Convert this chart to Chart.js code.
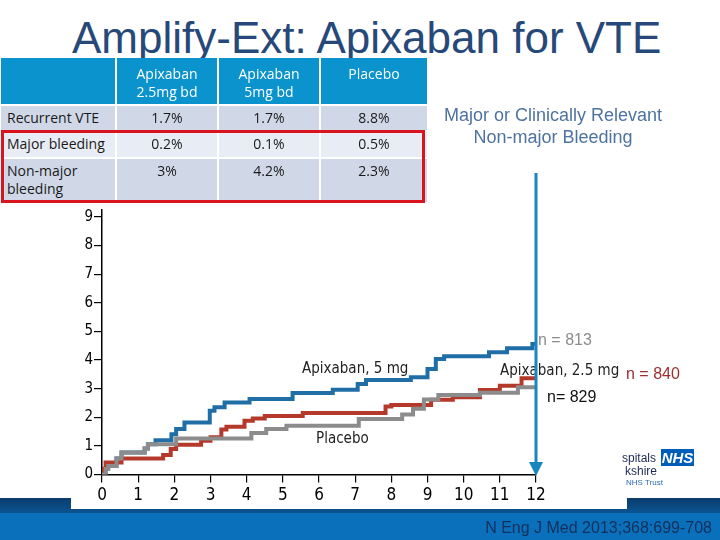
<!DOCTYPE html>
<html>
<head>
<meta charset="utf-8">
<script src="https://cdn.jsdelivr.net/npm/chart.js@4/dist/chart.umd.min.js"></script>
<style>
  body { margin: 0; }
  #stage { position: relative; width: 720px; height: 540px; overflow: hidden; background: #fff; font-family: "Liberation Sans", Arial, sans-serif; }
  .abs { position: absolute; white-space: nowrap; }
  .cell { position: absolute; box-sizing: border-box; font-family: "Open Sans", sans-serif; font-size: 14px; line-height: 18px; white-space: pre-line; color: #1a1a1a; }
  .lbl { font-family: "DejaVu Sans Condensed", sans-serif; font-size: 15px; line-height: 18px; color: #222; }
  .nlbl { font-size: 16px; line-height: 18px; }
</style>
</head>
<body>
<div id="stage">
  <div class="abs" style="left:0;top:498px;width:720px;height:16px;background:linear-gradient(#0b3c6c,#0b5695)"></div>
  <div class="abs" style="left:0;top:513px;width:720px;height:27px;background:#0a70bb"></div>
  <div class="abs" style="left:71px;top:300px;width:556px;height:209px;background:#fff"></div>

  <div class="abs" style="left:72px;top:16px;font-size:44px;line-height:44px;color:#27497a">Amplify-Ext: Apixaban for VTE</div>

  <div class="abs" style="left:0;top:0;width:720px;height:540px">
    <canvas id="chart" width="720" height="540"></canvas>
  </div>

  <div class="abs lbl" style="left:302px;top:359px">Apixaban, 5 mg</div>
  <div class="abs lbl" style="left:500px;top:361px">Apixaban, 2.5 mg</div>
  <div class="abs lbl" style="left:316px;top:429px">Placebo</div>

  <div class="abs nlbl" style="left:538px;top:331px;color:#8c8c8c">n = 813</div>
  <div class="abs nlbl" style="left:626px;top:365px;color:#9b2f2f">n = 840</div>
  <div class="abs nlbl" style="left:547px;top:388px;color:#111">n= 829</div>

  <svg class="abs" style="left:0;top:0" width="720" height="540">
    <line x1="536" y1="173" x2="536" y2="464" stroke="#1a86c0" stroke-width="3"/>
    <polygon points="529,462 543,462 536,476" fill="#1a86c0"/>
  </svg>

  <div class="abs" style="left:443px;top:105px;width:220px;text-align:center;font-size:18px;line-height:21.5px;color:#4f73a0;white-space:normal">Major or Clinically Relevant<br>Non-major Bleeding</div>

  <div id="table"></div>
  <div class="abs" style="left:1px;top:130px;width:424px;height:73px;box-sizing:border-box;border:3px solid #d9141e"></div>

  <div class="abs" style="left:622px;top:452px;font-size:12px;line-height:13px;color:#1d2a55">spitals</div>
  <div class="abs" style="left:625px;top:465px;font-size:12px;line-height:13px;color:#1d2a55">kshire</div>
  <div class="abs" style="left:626px;top:478px;font-size:8px;line-height:9px;color:#2b6cb3">NHS Trust</div>
  <div class="abs" style="left:661px;top:449px;width:33px;height:17px;background:#005eb8;color:#fff;font-weight:bold;font-style:italic;font-size:15px;line-height:17px;text-align:center">NHS</div>

  <div class="abs" style="right:8px;top:519px;font-size:16px;line-height:18px;color:#14305a">N Eng J Med 2013;368:699-708</div>
</div>

<script>
// table
const tableHeads = ['', 'Apixaban\n2.5mg bd', 'Apixaban\n5mg  bd', 'Placebo'];
const tableRows = ['Recurrent VTE', 'Major bleeding', 'Non-major\nbleeding'];
const tableValues = [
  ['1.7%', '1.7%', '8.8%'],
  ['0.2%', '0.1%', '0.5%'],
  ['3%', '4.2%', '2.3%']
];

// Kaplan-Meier style steps: month of event, cumulative %
const apix5Months = [0, 0.1, 0.17, 0.4, 0.54, 1.18, 1.27, 1.48, 1.92, 2.05, 2.28, 2.98, 3.11, 3.39, 4.08, 5.27, 6.38, 7.07, 7.3, 8.54, 9.0, 9.23, 9.46, 10.7, 11.2, 11.9, 12];
const apix5Pct = [0, 0.19, 0.3, 0.56, 0.77, 0.91, 1.06, 1.2, 1.41, 1.59, 1.82, 2.23, 2.35, 2.52, 2.64, 2.85, 2.96, 3.16, 3.3, 3.4, 3.69, 4.04, 4.13, 4.27, 4.41, 4.56, 4.56];

const apix25Months = [0, 0.05, 0.1, 0.54, 1.69, 1.9, 2.05, 2.74, 3.0, 3.3, 3.44, 3.94, 4.17, 4.5, 5.55, 7.84, 8.0, 9.1, 9.7, 10.45, 11.0, 11.6, 12];
const apix25Pct = [0, 0.2, 0.42, 0.56, 0.68, 0.89, 1.04, 1.18, 1.3, 1.57, 1.67, 1.88, 1.96, 2.04, 2.15, 2.38, 2.43, 2.61, 2.7, 2.95, 3.1, 3.36, 3.36];

const placeboMonths = [0, 0.1, 0.17, 0.4, 0.54, 1.18, 1.27, 2.05, 4.13, 4.54, 5.1, 7.1, 8.3, 8.6, 8.9, 9.3, 10.45, 11.5, 12];
const placeboPct = [0, 0.19, 0.3, 0.56, 0.77, 0.91, 1.06, 1.26, 1.45, 1.59, 1.7, 1.94, 2.1, 2.3, 2.62, 2.78, 2.86, 3.05, 3.05];

const xTicks = [0, 1, 2, 3, 4, 5, 6, 7, 8, 9, 10, 11, 12];
const yTicks = [0, 1, 2, 3, 4, 5, 6, 7, 8, 9];

// build table cells
const colX = [0, 116, 218, 320, 428];
const rowY = [57, 105, 131, 158, 203];
const rowBg = ['#d0d8e8', '#e8ecf4', '#d0d8e8'];
const tbl = document.getElementById('table');
function addCell(r, c, text, bg, color, align) {
  const d = document.createElement('div');
  d.className = 'cell';
  d.style.left = (colX[c] + 1) + 'px';
  d.style.top = (rowY[r] + 1) + 'px';
  d.style.width = (colX[c + 1] - colX[c] - 2) + 'px';
  d.style.height = (rowY[r + 1] - rowY[r] - 2) + 'px';
  d.style.background = bg;
  d.style.color = color;
  d.style.textAlign = align;
  d.style.paddingTop = (r === 0 ? 7 : 3) + 'px';
  d.style.paddingLeft = align === 'left' ? '6px' : '0';
  d.textContent = text;
  tbl.appendChild(d);
}
tableHeads.forEach((h, c) => addCell(0, c, h, '#0a93cc', '#fff', 'center'));
tableRows.forEach((name, i) => {
  addCell(i + 1, 0, name, rowBg[i], '#1a1a1a', 'left');
  tableValues[i].forEach((v, j) => addCell(i + 1, j + 1, v, rowBg[i], '#1a1a1a', 'center'));
});

function pts(xs, ys) {
  return xs.map((x, i) => ({ x: x, y: ys[i] }));
}

const ctx = document.getElementById('chart').getContext('2d');
const kmChart = new Chart(ctx, {
  type: 'line',
  data: {
    datasets: [
      { label: 'Placebo', data: pts(placeboMonths, placeboPct), borderColor: '#8c8c8c', order: 0 },
      { label: 'Apixaban, 2.5 mg', data: pts(apix25Months, apix25Pct), borderColor: '#b5392b', order: 1 },
      { label: 'Apixaban, 5 mg', data: pts(apix5Months, apix5Pct), borderColor: '#1f6fa6', order: 2 }
    ].map(d => Object.assign(d, { borderWidth: 4, stepped: true, pointRadius: 0, fill: false }))
  },
  options: {
    responsive: false,
    animation: false,
    plugins: { legend: { display: false }, tooltip: { enabled: false } },
    layout: { padding: { left: 0, right: 184, top: 209.8, bottom: 35.5 } },
    scales: {
      x: {
        type: 'linear', min: 0, max: 12,
        afterBuildTicks: s => { s.ticks = xTicks.map(v => ({ value: v })); },
        afterFit: s => { s.height = 30; },
        ticks: { font: { family: 'DejaVu Sans Condensed', size: 17 }, color: '#000', padding: 3, maxRotation: 0 },
        grid: { drawOnChartArea: false, tickLength: 8, color: '#000', lineWidth: 1.2 },
        border: { color: '#000', width: 1.5 }
      },
      y: {
        type: 'linear', min: 0, max: 9.25,
        afterBuildTicks: s => { s.ticks = yTicks.map(v => ({ value: v })); },
        afterFit: s => { s.width = 102; },
        ticks: { font: { family: 'DejaVu Sans Condensed', size: 15 }, color: '#000', padding: 1 },
        grid: { drawOnChartArea: false, tickLength: 8, color: '#000', lineWidth: 1.2 },
        border: { color: '#000', width: 1.5 }
      }
    }
  }
});
</script>
</body>
</html>
